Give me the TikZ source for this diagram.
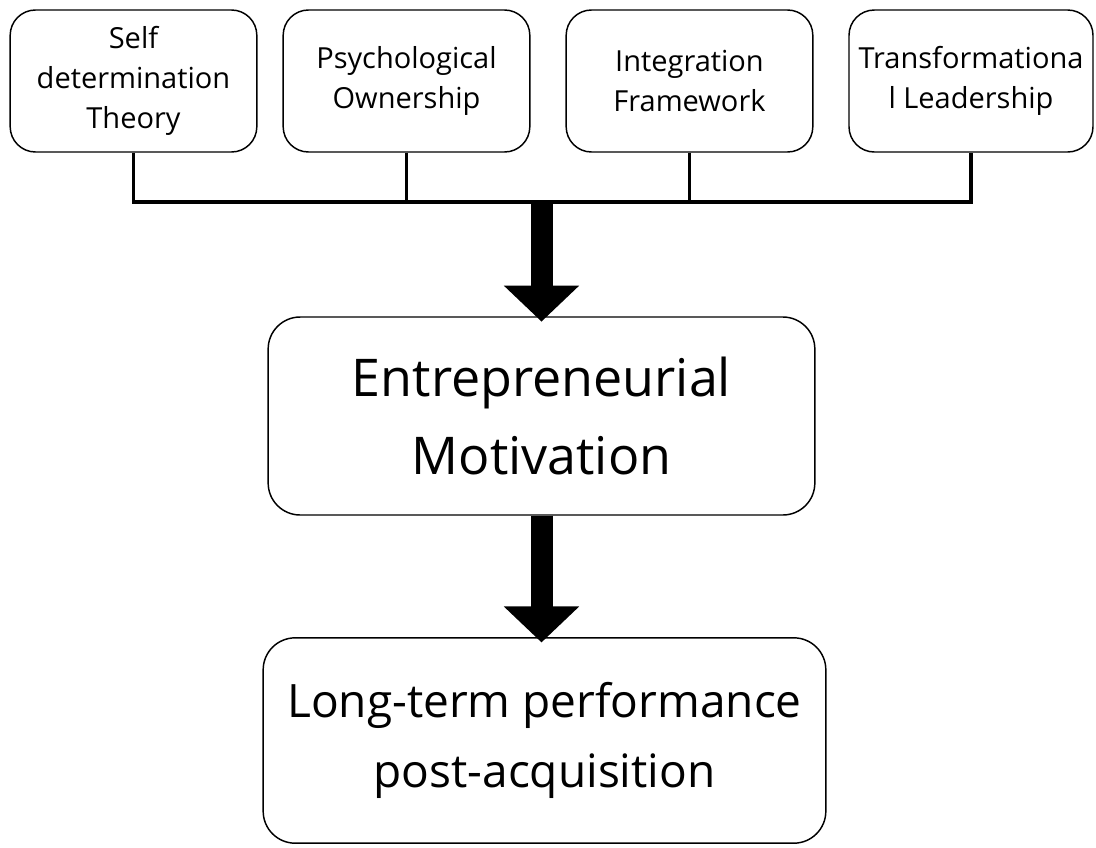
\documentclass[tikz,border=0pt]{standalone}
\usepackage{fontspec}
\setmainfont{Open Sans}
\usetikzlibrary{positioning,arrows.meta}
\tikzset{caja/.style={draw,rounded corners=19pt,line width=1.1pt,align=center,
            minimum width=185pt,minimum height=106.5pt,inner sep=0pt,
            font=\fontsize{21.75}{30}\selectfont},
         grande/.style={caja,rounded corners=24pt},
         bus/.style={line width=2.6pt,line join=miter},
         flecha/.style={line width=16.5pt,-{Triangle[width=55pt,length=27pt]}}}

\begin{document}
\begin{tikzpicture}[x=0.75pt,y=-0.75pt]
            \useasboundingbox (0,0) rectangle (1096,847);
            \node[caja] (sdt)   at (133.5,81) {Self\\determination\\Theory};
            \node[caja] (own)   at (406.5,81) {Psychological\\Ownership};
            \node[caja] (integ) at (689.5,81) {Integration\\Framework};
            \node[caja,minimum width=183pt] (trans) at (971,81) {Transformationa\\l Leadership};
            \node[grande,minimum width=410pt,minimum height=148.5pt,
                  font=\fontsize{39}{58}\selectfont] (motiv) at (541.5,416) {Entrepreneurial\\Motivation};
            \node[grande,minimum width=422pt,minimum height=154pt,
                  font=\fontsize{34.5}{52}\selectfont] (perf) at (544.5,740.5) {Long-term performance\\post-acquisition};
            \coordinate (hub) at (541.5,202);

            \draw[bus] (sdt.south) -- (sdt.south |- hub) -- (trans.south |- hub) -- (trans.south);
            \draw[bus] (own.south) -- (own.south |- hub);
            \draw[bus] (integ.south) -- (integ.south |- hub);
            \draw[flecha] (hub) -- ([yshift=-4pt]motiv.north);
            \draw[flecha] (motiv.south) -- ([yshift=-4pt]motiv.south |- perf.north);
        \end{tikzpicture}
\end{document}
